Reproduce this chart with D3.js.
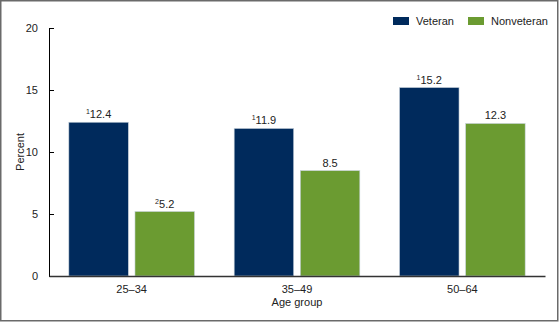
<!DOCTYPE html>
<html>
<head>
<meta charset="utf-8">
<script src="https://cdn.jsdelivr.net/npm/d3@7"></script>
<style>
  body { margin: 0; background: #fff; }
  svg { display: block; font-family: "Liberation Sans", Arial, sans-serif; }
</style>
</head>
<body>
<svg id="chart" width="560" height="323"></svg>
<script>
const ageGroups = ['25–34', '35–49', '50–64'];
const seriesNames = ['Veteran', 'Nonveteran'];
const veteran = [12.4, 11.9, 15.2];
const nonveteran = [5.2, 8.5, 12.3];
const veteranNotes = ['1', '1', '1'];
const nonveteranNotes = ['2', '', ''];
const yTicks = [0, 5, 10, 15, 20];

const colors = ['#002a5c', '#6b9b31'];

const svg = d3.select('#chart');
const width = 560, height = 323;
const margin = { top: 28, right: 15, bottom: 47, left: 49 };

// frame
svg.append('rect')
  .attr('x', 0.75).attr('y', 0.75)
  .attr('width', width - 3).attr('height', height - 3)
  .attr('fill', 'none')
  .attr('stroke', '#6a6a6a')
  .attr('stroke-width', 1.5);

const x = d3.scaleBand()
  .domain(ageGroups)
  .range([margin.left, width - margin.right])
  .paddingInner(0.24)
  .paddingOuter(0.12);

const xSub = d3.scaleBand()
  .domain(seriesNames)
  .range([0, x.bandwidth()])
  .paddingInner(0.1);

const y = d3.scaleLinear()
  .domain([0, 20])
  .range([height - margin.bottom, margin.top]);

// y axis
const yAxis = svg.append('g')
  .attr('transform', `translate(${margin.left},0)`)
  .call(d3.axisLeft(y).tickValues(yTicks).tickSize(-5).tickPadding(11).tickSizeOuter(0));
yAxis.select('.domain').attr('stroke', '#000');
yAxis.selectAll('.tick line').attr('stroke', '#000');
yAxis.selectAll('text').attr('font-size', 11).attr('fill', '#222')
  .attr('font-family', '"Liberation Sans", Arial, sans-serif');

svg.append('text')
  .attr('transform', `translate(24,${y(10)}) rotate(-90)`)
  .attr('text-anchor', 'middle')
  .attr('font-size', 11)
  .attr('fill', '#222')
  .text('Percent');

// bars
const data = ageGroups.map((g, i) => ({
  group: g,
  values: [
    { name: 'Veteran', value: veteran[i], note: veteranNotes[i], color: colors[0] },
    { name: 'Nonveteran', value: nonveteran[i], note: nonveteranNotes[i], color: colors[1] }
  ]
}));

const groups = svg.append('g').selectAll('g')
  .data(data)
  .join('g')
  .attr('transform', d => `translate(${x(d.group)},0)`);

groups.selectAll('rect')
  .data(d => d.values)
  .join('rect')
  .attr('x', d => xSub(d.name))
  .attr('y', d => y(d.value))
  .attr('width', xSub.bandwidth())
  .attr('height', d => y(0) - y(d.value))
  .attr('fill', d => d.color)
  .attr('stroke', '#c8d3dc')
  .attr('stroke-width', 0.6);

const labels = groups.selectAll('text')
  .data(d => d.values)
  .join('text')
  .attr('x', d => xSub(d.name) + xSub.bandwidth() / 2)
  .attr('y', d => y(d.value) - 4)
  .attr('text-anchor', 'middle')
  .attr('font-size', 11)
  .attr('fill', '#222');
labels.append('tspan')
  .attr('font-size', 7)
  .attr('dy', d => d.note ? -4 : 0)
  .text(d => d.note);
labels.append('tspan')
  .attr('dy', d => d.note ? 4 : 0)
  .text(d => d.value.toFixed(1));

// x axis
const xAxis = svg.append('g')
  .attr('transform', `translate(0,${y(0)})`)
  .call(d3.axisBottom(x).tickSize(0).tickPadding(9).tickSizeOuter(0));
xAxis.select('.domain').attr('stroke', '#333').attr('stroke-width', 1.5);
xAxis.selectAll('text').attr('font-size', 11).attr('fill', '#222')
  .attr('font-family', '"Liberation Sans", Arial, sans-serif');

svg.append('text')
  .attr('x', x('35–49') + x.bandwidth() / 2)
  .attr('y', 306)
  .attr('text-anchor', 'middle')
  .attr('font-size', 11)
  .attr('fill', '#222')
  .text('Age group');

// legend
const legendX = [393, 468];
const legend = svg.append('g').selectAll('g')
  .data(seriesNames)
  .join('g')
  .attr('transform', (d, i) => `translate(${legendX[i]},17)`);
legend.append('rect')
  .attr('width', 16).attr('height', 8)
  .attr('fill', (d, i) => colors[i]);
legend.append('text')
  .attr('x', 23).attr('y', 8)
  .attr('font-size', 11)
  .attr('fill', '#222')
  .text(d => d);
</script>
</body>
</html>
